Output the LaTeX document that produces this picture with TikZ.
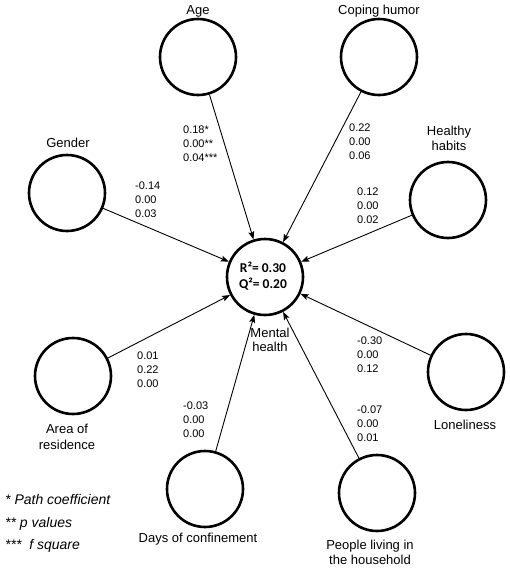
\documentclass[tikz,border=0pt]{standalone}
\usepackage{fontspec}
\setmainfont{Liberation Sans}
\newfontfamily\calib{Carlito}
\usetikzlibrary{arrows.meta}
\begin{document}
\begin{tikzpicture}[x=1pt,y=-1pt,
  lv/.style={circle,draw,line width=2.6pt,minimum size=76pt,inner sep=0pt},
  lab/.style={font=\fontsize{13}{15}\selectfont,anchor=base,align=center,inner sep=0pt},
  stat/.style={font=\fontsize{11}{14}\selectfont,anchor=base west,align=left,inner sep=0pt},
  leg/.style={font=\fontsize{14}{16}\selectfont\itshape,anchor=base west,inner sep=0pt},
  pth/.style={line width=0.9pt,-{Stealth[length=8pt,width=6pt,inset=1.5pt]}}]
\useasboundingbox (0,0) rectangle (510,571);
% latent variables
\node[lv] (age) at (198,57) {};
\node[lv] (cop) at (379,57) {};
\node[lv] (gen) at (67,193) {};
\node[lv] (hea) at (448,200) {};
\node[lv] (lon) at (466,372) {};
\node[lv] (are) at (73,376) {};
\node[lv] (day) at (205,489) {};
\node[lv] (peo) at (377,493) {};
\node[lv] (mh) at (265,277) {};
% labels
\node[lab] (tage) at (198,14) {Age};
\node[lab] (tcop) at (379,14) {Coping humor};
\node[lab] (tgen) at (68,147) {Gender};
\node[lab] (thea1) at (449,135) {Healthy};
\node[lab] (thea2) at (449,150) {habits};
\node[lab] (tlon) at (465,429) {Loneliness};
\node[lab] (tare1) at (67,433) {Area of};
\node[lab] (tare2) at (67,449) {residence};
\node[lab] (tday) at (198,542) {Days of confinement};
\node[lab] (tpeo1) at (370,549) {People living in};
\node[lab] (tpeo2) at (370,564) {the household};
\node[lab] (tmh1) at (270,337) {Mental};
\node[lab] (tmh2) at (270,351) {health};
\node[font=\calib\bfseries\fontsize{13.5}{16}\selectfont,anchor=base,inner sep=0pt] (r2) at (263,272) {R²= 0.30};
\node[font=\calib\bfseries\fontsize{13.5}{16}\selectfont,anchor=base,inner sep=0pt] (q2) at (263,288) {Q²= 0.20};
% paths
\draw[pth] (age) -- (mh);
\draw[pth] (cop) -- (mh);
\draw[pth] (gen) -- (mh);
\draw[pth] (hea) -- (mh);
\draw[pth] (lon) -- (mh);
\draw[pth] (are) -- (mh);
\draw[pth] (day) -- (mh);
\draw[pth] (peo) -- (mh);
% statistics
\node[stat] (sage1) at (183,133) {0.18*};
\node[stat] (sage2) at (183,147) {0.00**};
\node[stat] (sage3) at (183,161) {0.04***};
\node[stat] (scop1) at (349,131) {0.22};
\node[stat] (scop2) at (349,145) {0.00};
\node[stat] (scop3) at (349,159) {0.06};
\node[stat] (sgen1) at (135,189) {-0.14};
\node[stat] (sgen2) at (135,203) {0.00};
\node[stat] (sgen3) at (135,217) {0.03};
\node[stat] (shea1) at (357,195) {0.12};
\node[stat] (shea2) at (357,209) {0.00};
\node[stat] (shea3) at (357,223) {0.02};
\node[stat] (slon1) at (357,344) {-0.30};
\node[stat] (slon2) at (357,358) {0.00};
\node[stat] (slon3) at (357,372) {0.12};
\node[stat] (speo1) at (357,413) {-0.07};
\node[stat] (speo2) at (357,427) {0.00};
\node[stat] (speo3) at (357,441) {0.01};
\node[stat] (sare1) at (137,359) {0.01};
\node[stat] (sare2) at (137,373) {0.22};
\node[stat] (sare3) at (137,387) {0.00};
\node[stat] (sday1) at (183,409) {-0.03};
\node[stat] (sday2) at (183,423) {0.00};
\node[stat] (sday3) at (183,437) {0.00};
% legend
\node[leg] (l1) at (5,504) {* Path coefficient};
\node[leg] (l2) at (5,527) {** p values};
\node[leg] (l3) at (5,549) {***\ \ f square};
\end{tikzpicture}
\end{document}
